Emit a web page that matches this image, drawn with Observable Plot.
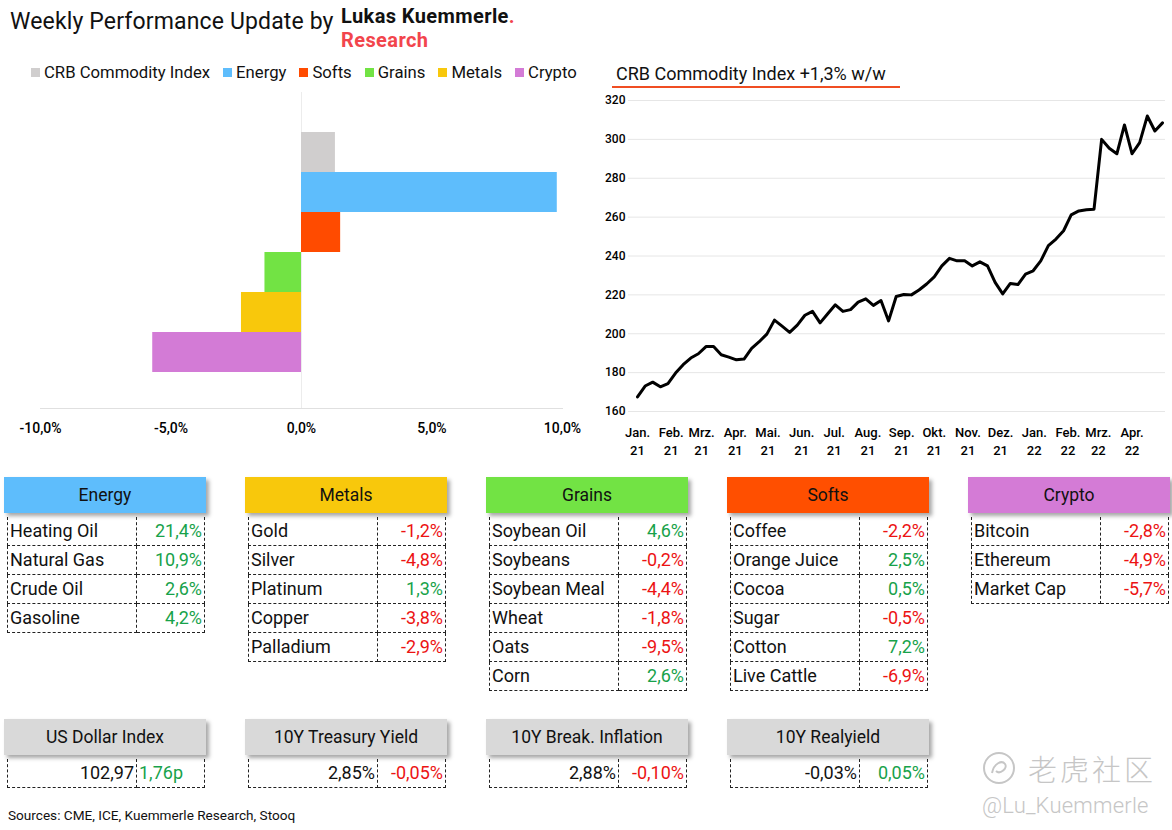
<!DOCTYPE html>
<html>
<head>
<meta charset="utf-8">
<script src="https://cdn.jsdelivr.net/npm/d3@7"></script>
<script src="https://cdn.jsdelivr.net/npm/@observablehq/plot@0.6"></script>
<style>
  html, body { margin: 0; padding: 0; background: #fff; }
  body { width: 1172px; height: 830px; position: relative; overflow: hidden;
         font-family: Roboto, "Noto Sans", sans-serif; color: #111; }
  #title { position: absolute; left: 10px; top: 8px; font-size: 23px; letter-spacing: 0.15px; white-space: nowrap; }
  .logo { position: absolute; left: 341px; font-weight: 700; font-size: 20px; line-height: normal; letter-spacing: 0.4px; white-space: nowrap; }
  .red { color: #f2454c; }
  #legend { position: absolute; left: 31px; top: 63px; display: flex; gap: 13px; font-size: 16.7px; white-space: nowrap; }
  #legend .item { display: flex; align-items: center; gap: 4px; }
  #legend .sw { width: 9px; height: 9px; display: inline-block; }
  #bar { position: absolute; left: 0; top: 85px; }
  #lineTitle { position: absolute; left: 616px; top: 63px; font-size: 18px; white-space: nowrap; }
  #lineRule { position: absolute; left: 612px; top: 86px; width: 288px; height: 2px; background: #f04e23; }
  #line { position: absolute; left: 590px; top: 88px; }
  .row { position: absolute; left: 4px; display: flex; gap: 39px; }
  .block { width: 202px; }
  .head { height: 36px; line-height: 36px; text-align: center; font-size: 17.5px; font-weight: 400;
          box-shadow: 3px 3px 4px rgba(0,0,0,0.35); }
  table { border-collapse: collapse; margin-left: 3px; margin-top: 4px; width: 198px; table-layout: fixed; }
  td { border: 1px dashed #222; height: 28px; padding: 0 2px; font-size: 18px; line-height: 28px; white-space: nowrap; overflow: hidden; }
  tr:first-child td { border-top: none; }
  td.n { width: 124px; text-align: left; }
  td.v { text-align: right; }
  td.l { text-align: left; }
  .pos { color: #17a24a; }
  .neg { color: #ec1313; }
  #sources { position: absolute; left: 8px; top: 807px; font-size: 13.6px; }
  #wm { position: absolute; left: 982px; top: 747px; color: #c6c6c6; }
  #wm .cn { font-family: "Noto Sans CJK SC", sans-serif; font-weight: 300; font-size: 29px; letter-spacing: 3px; display: flex; align-items: center; gap: 12px; }
  #wm .at { font-size: 22px; font-weight: 300; margin-top: 4px; letter-spacing: 0.2px; }
</style>
</head>
<body>
<div id="title">Weekly Performance Update by</div>
<div class="logo" style="top:4px">Lukas Kuemmerle<span class="red">.</span></div>
<div class="logo red" style="top:27.5px">Research</div>
<div id="legend"></div>
<div id="bar"></div>
<div id="lineTitle">CRB Commodity Index +1,3% w/w</div>
<div id="lineRule"></div>
<div id="line"></div>
<div class="row" id="tables" style="top:477px"></div>
<div class="row" id="macro" style="top:719px"></div>
<div id="sources">Sources: CME, ICE, Kuemmerle Research, Stooq</div>
<div id="wm">
  <div class="cn"><svg width="34" height="34" viewBox="0 0 34 34"><circle cx="17" cy="17" r="15" fill="none" stroke="#c6c6c6" stroke-width="2"/><path d="M10 22 C12 12, 20 9, 23 13 C26 17, 18 24, 14 20" fill="none" stroke="#c6c6c6" stroke-width="2"/></svg><span>老虎社区</span></div>
  <div class="at">@Lu_Kuemmerle</div>
</div>

<script>
// ---------- Data ----------
const barCategories = ["CRB Commodity Index", "Energy", "Softs", "Grains", "Metals", "Crypto"];
const barValues = [1.3, 9.8, 1.5, -1.4, -2.3, -5.7];
const barColors = ["#d0cece", "#5ebdfc", "#ff4b00", "#72e344", "#f8c80c", "#d37bd6"];
const barTicks = [-10, -5, 0, 5, 10];

const crbDates = ("2021-01-01 2021-01-08 2021-01-15 2021-01-22 2021-01-29 2021-02-05 2021-02-12 2021-02-19 2021-02-26 " +
  "2021-03-05 2021-03-12 2021-03-19 2021-03-26 2021-04-02 2021-04-09 2021-04-16 2021-04-23 2021-04-30 " +
  "2021-05-07 2021-05-14 2021-05-21 2021-05-28 2021-06-04 2021-06-11 2021-06-18 2021-06-25 " +
  "2021-07-02 2021-07-09 2021-07-16 2021-07-23 2021-07-30 2021-08-06 2021-08-13 2021-08-20 2021-08-27 " +
  "2021-09-03 2021-09-10 2021-09-17 2021-09-24 2021-10-01 2021-10-08 2021-10-15 2021-10-22 2021-10-29 " +
  "2021-11-05 2021-11-12 2021-11-19 2021-11-26 2021-12-03 2021-12-10 2021-12-17 2021-12-24 2021-12-31 " +
  "2022-01-07 2022-01-14 2022-01-21 2022-01-28 2022-02-04 2022-02-11 2022-02-18 2022-02-25 " +
  "2022-03-04 2022-03-11 2022-03-18 2022-03-25 2022-04-01 2022-04-08 2022-04-15 2022-04-22 2022-04-29").split(" ");
const crbValues = [167.5, 173.1, 175.1, 172.7, 174.4, 179.8, 184.1, 187.5, 189.7,
  193.4, 193.4, 189.2, 188.0, 186.6, 187.0, 192.5, 195.9, 199.8,
  207.0, 203.9, 200.7, 204.4, 209.5, 211.5, 205.6, 210.3,
  214.9, 211.5, 212.4, 216.3, 218.0, 214.6, 217.1, 206.6, 219.2,
  220.2, 220.0, 222.5, 225.6, 229.3, 234.9, 238.8, 237.5, 237.5,
  234.9, 237.0, 234.9, 226.4, 220.5, 225.9, 225.3, 230.7, 232.4,
  237.5, 245.3, 248.7, 253.0, 261.2, 263.2, 263.8, 264.1,
  300.0, 295.4, 292.6, 307.4, 292.6, 298.3, 312.0, 304.3, 308.5];
const crbTicks = [160, 180, 200, 220, 240, 260, 280, 300, 320];
const monthLabels = ["Jan.", "Feb.", "Mrz.", "Apr.", "Mai.", "Jun.", "Jul.", "Aug.", "Sep.", "Okt.", "Nov.", "Dez."];

const groupNames = ["Energy", "Metals", "Grains", "Softs", "Crypto"];
const groupColors = ["#5ebdfc", "#f8c80c", "#72e344", "#ff4f00", "#d47bd6"];
const energyNames = ["Heating Oil", "Natural Gas", "Crude Oil", "Gasoline"];
const energyValues = [21.4, 10.9, 2.6, 4.2];
const metalsNames = ["Gold", "Silver", "Platinum", "Copper", "Palladium"];
const metalsValues = [-1.2, -4.8, 1.3, -3.8, -2.9];
const grainsNames = ["Soybean Oil", "Soybeans", "Soybean Meal", "Wheat", "Oats", "Corn"];
const grainsValues = [4.6, -0.2, -4.4, -1.8, -9.5, 2.6];
const softsNames = ["Coffee", "Orange Juice", "Cocoa", "Sugar", "Cotton", "Live Cattle"];
const softsValues = [-2.2, 2.5, 0.5, -0.5, 7.2, -6.9];
const cryptoNames = ["Bitcoin", "Ethereum", "Market Cap"];
const cryptoValues = [-2.8, -4.9, -5.7];

const macroNames = ["US Dollar Index", "10Y Treasury Yield", "10Y Break. Inflation", "10Y Realyield"];
const macroLevels = [102.97, 2.85, 2.88, -0.03];
const macroChanges = [1.76, -0.05, -0.10, 0.05];
const macroUnits = ["", "%", "%", "%"];
const macroChangeUnits = ["p", "%", "%", "%"];

// ---------- Helpers ----------
const comma = (v, d) => v.toFixed(d).replace(".", ",");
const font = "Roboto, 'Noto Sans', sans-serif";

// ---------- Legend ----------
const legend = document.getElementById("legend");
barCategories.forEach((c, i) => {
  const it = document.createElement("div");
  it.className = "item";
  it.innerHTML = `<span class="sw" style="background:${barColors[i]}"></span><span>${c}</span>`;
  legend.appendChild(it);
});

// ---------- Bar chart ----------
const barData = barCategories.map((c, i) => ({category: c, value: barValues[i]}));
document.getElementById("bar").appendChild(Plot.plot({
  width: 600, height: 360,
  marginLeft: 40, marginRight: 38, marginTop: 7, marginBottom: 37,
  style: {fontFamily: font, color: "#000", background: "transparent", overflow: "visible"},
  x: {domain: [-10, 10], label: null},
  y: {domain: barCategories, padding: 0, insetTop: 40, insetBottom: 36, axis: null, label: null},
  color: {domain: barCategories, range: barColors},
  marks: [
    Plot.ruleX([0], {stroke: "#ececec"}),
    Plot.frame({anchor: "bottom", stroke: "#e0e0e0"}),
    Plot.barX(barData, {x: "value", y: "category", fill: "category"}),
    Plot.axisX({ticks: barTicks, tickFormat: d => comma(d, 1) + "%", tickSize: 0, tickPadding: 15, fontSize: 14, fontWeight: 500, label: null})
  ]
}));

// ---------- Line chart ----------
const crbData = crbDates.map((d, i) => ({date: new Date(d + "T00:00:00Z"), value: crbValues[i]}));
const monthTicks = d3.utcMonth.range(crbData[0].date, new Date("2022-04-02T00:00:00Z"));
document.getElementById("line").appendChild(Plot.plot({
  width: 582, height: 375,
  marginLeft: 38, marginRight: 7, marginTop: 12, marginBottom: 52,
  style: {fontFamily: font, color: "#000", background: "transparent", overflow: "visible"},
  x: {type: "utc", domain: [crbData[0].date, crbData[crbData.length - 1].date], insetLeft: 9, insetRight: 3, label: null},
  y: {domain: [160, 320], label: null},
  marks: [
    Plot.gridY({ticks: crbTicks, stroke: "#e6e6e6", strokeOpacity: 1}),
    Plot.axisY({ticks: crbTicks, tickSize: 0, tickPadding: 3, fontSize: 12, fontWeight: 500, label: null}),
    Plot.axisX({ticks: monthTicks, tickSize: 0, tickPadding: 13, fontSize: 13, fontWeight: 500, lineHeight: 1.38, label: null,
      tickFormat: d => monthLabels[d.getUTCMonth()] + "\n" + String(d.getUTCFullYear()).slice(2)}),
    Plot.line(crbData, {x: "date", y: "value", stroke: "#000", strokeWidth: 3})
  ]
}));

// ---------- Tables ----------
const groups = [
  [energyNames, energyValues], [metalsNames, metalsValues], [grainsNames, grainsValues],
  [softsNames, softsValues], [cryptoNames, cryptoValues]
];
const tables = document.getElementById("tables");
groups.forEach(([names, vals], gi) => {
  const b = document.createElement("div");
  b.className = "block";
  const rows = names.map((n, i) =>
    `<tr><td class="n">${n}</td><td class="v ${vals[i] >= 0 ? "pos" : "neg"}">${comma(vals[i], 1)}%</td></tr>`).join("");
  b.innerHTML = `<div class="head" style="background:${groupColors[gi]}">${groupNames[gi]}</div><table>${rows}</table>`;
  tables.appendChild(b);
});

const macro = document.getElementById("macro");
macroNames.forEach((n, i) => {
  const b = document.createElement("div");
  b.className = "block";
  const chCls = macroChanges[i] >= 0 ? "pos" : "neg";
  const align = i === 0 ? "l" : "v";
  b.innerHTML = `<div class="head" style="background:#d9d9d9">${n}</div>` +
    `<table><tr><td class="n v">${comma(macroLevels[i], 2)}${macroUnits[i]}</td>` +
    `<td class="${align} ${chCls}">${comma(macroChanges[i], 2)}${macroChangeUnits[i]}</td></tr></table>`;
  macro.appendChild(b);
});
</script>
</body>
</html>
